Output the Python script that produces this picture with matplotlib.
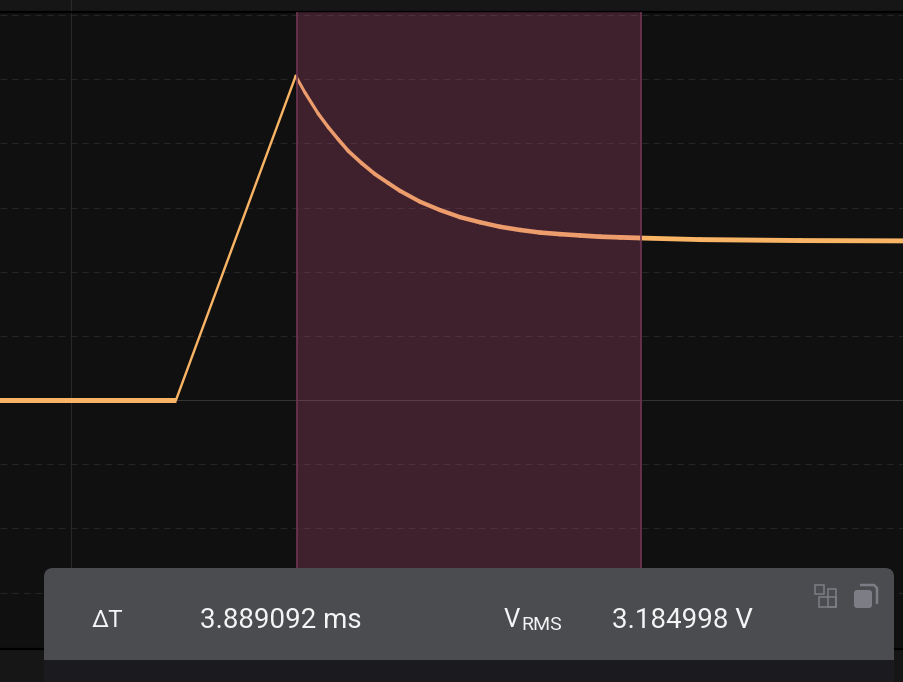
import matplotlib
matplotlib.use("Agg")
import matplotlib.pyplot as plt
from matplotlib.patches import FancyBboxPatch, Rectangle

W, H = 904, 682

# waveform (ms, V)
flat_t = [-0.81, 1.185]
flat_v = [0.0, 0.0]
ramp_t = [1.185, 2.536]
ramp_v = [0.0, 5.05]
decay_t = [2.536, 2.641, 2.791, 2.904, 3.017, 3.130, 3.281, 3.431, 3.581, 3.713, 3.939,
           4.165, 4.391, 4.616, 4.842, 5.068, 5.293, 5.519, 5.745, 5.971, 6.196, 6.422,
           7.10, 8.23, 9.41]
decay_v = [5.05, 4.79, 4.46, 4.25, 4.06, 3.88, 3.69, 3.52, 3.38, 3.26, 3.09,
           2.96, 2.85, 2.77, 2.70, 2.65, 2.61, 2.585, 2.565, 2.545, 2.535, 2.525,
           2.50, 2.485, 2.48]
decay_w = [3.0, 3.2, 3.4, 3.5, 3.6, 3.7, 3.8, 3.9, 4.0, 4.1, 4.2, 4.3,
           4.4, 4.4, 4.5, 4.5, 4.6, 4.6, 4.7, 4.7, 4.8, 4.8, 4.9, 4.9]

# cursors and grid
cursor_a = 2.545
cursor_b = 6.434
dashed_levels = [-3, -2, -1, 1, 2, 3, 4, 5, 6]
grid_time = 0.0

# read-out
label_dt = "ΔT"
value_dt = "3.889092 ms"
label_v = "V"
label_sub = "RMS"
value_v = "3.184998 V"

plt.rcParams["font.family"] = ["Roboto", "DejaVu Sans"]
fig = plt.figure(figsize=(W / 100, H / 100), dpi=100, facecolor="#161616")

top, bottom = 12, 649
ax = fig.add_axes([0, 1 - bottom / H, 1, (bottom - top) / H], facecolor="#101010")
ax.set_xlim(-0.801, 9.40)
ax.set_ylim(-3.88, 6.047)
ax.set_xticks([])
ax.set_yticks([])
for s in ("left", "right"):
    ax.spines[s].set_visible(False)
for s in ("top", "bottom"):
    ax.spines[s].set_color("#000000")
    ax.spines[s].set_linewidth(1.6)

for lv in dashed_levels:
    ax.axhline(lv, color="#252525", lw=0.8, dashes=(6, 4.5), zorder=1)
ax.axhline(0, color="#343434", lw=0.8, zorder=1)
ax.axvline(grid_time, color="#282828", lw=0.8, zorder=1)

PX = 0.72
LINE = "#f9b565"
ax.plot(flat_t, flat_v, color=LINE, lw=5.0 * PX, solid_capstyle="butt", zorder=3)
ax.plot(ramp_t, ramp_v, color=LINE, lw=2.4 * PX, solid_capstyle="round", zorder=3)
for i, w in enumerate(decay_w):
    ax.plot(decay_t[i:i + 2], decay_v[i:i + 2], color=LINE, lw=w * PX,
            solid_capstyle="round", zorder=3)

ax.axvspan(cursor_a, cursor_b, facecolor="#cc5484", alpha=0.25, lw=0, zorder=4)
for c in (cursor_a, cursor_b):
    ax.axvline(c, color="#6e3450", lw=1.7 * PX, zorder=5)

# overlay in pixels for the read-out panel
ov = fig.add_axes([0, 0, 1, 1], facecolor="none")
ov.set_xlim(0, W)
ov.set_ylim(H, 0)
ov.axis("off")
ov.plot([71.5, 71.5], [0, 10], color="#2a2a2a", lw=0.8)
ov.add_patch(FancyBboxPatch((44, 568), 850, 130, boxstyle="round,pad=0,rounding_size=9",
                            fc="#4b4c50", ec="none", mutation_aspect=1))
ov.add_patch(Rectangle((44, 660), 850, 22, fc="#1b1b1f", ec="none"))

TXT = "#f4f4f5"
ty = 628
ov.text(92, ty - 1, label_dt, color=TXT, fontsize=17.5, va="baseline", ha="left")
ov.text(200, ty, value_dt, color=TXT, fontsize=20, va="baseline", ha="left")
ov.text(504, ty - 1, label_v, color=TXT, fontsize=18.5, va="baseline", ha="left")
ov.text(521, 629.5, label_sub, color=TXT, fontsize=14, va="baseline", ha="left")
ov.text(612, ty, value_v, color=TXT, fontsize=20, va="baseline", ha="left")

ICON = "#7d7e85"
ov.add_patch(Rectangle((815, 585), 9, 9, fc="none", ec=ICON, lw=1.1))
ov.add_patch(Rectangle((819, 597), 17.5, 10, fc="none", ec=ICON, lw=1.1))
ov.add_patch(Rectangle((828, 589), 8.5, 18, fc="none", ec=ICON, lw=1.1))
ov.add_patch(FancyBboxPatch((854, 590), 18, 18, boxstyle="round,pad=0,rounding_size=3",
                            fc=ICON, ec="none"))
ov.plot([860, 874, 877, 877], [585, 585, 588, 604], color=ICON, lw=1.8, solid_capstyle="butt")

fig.savefig("out.png", dpi=100, facecolor=fig.get_facecolor())
